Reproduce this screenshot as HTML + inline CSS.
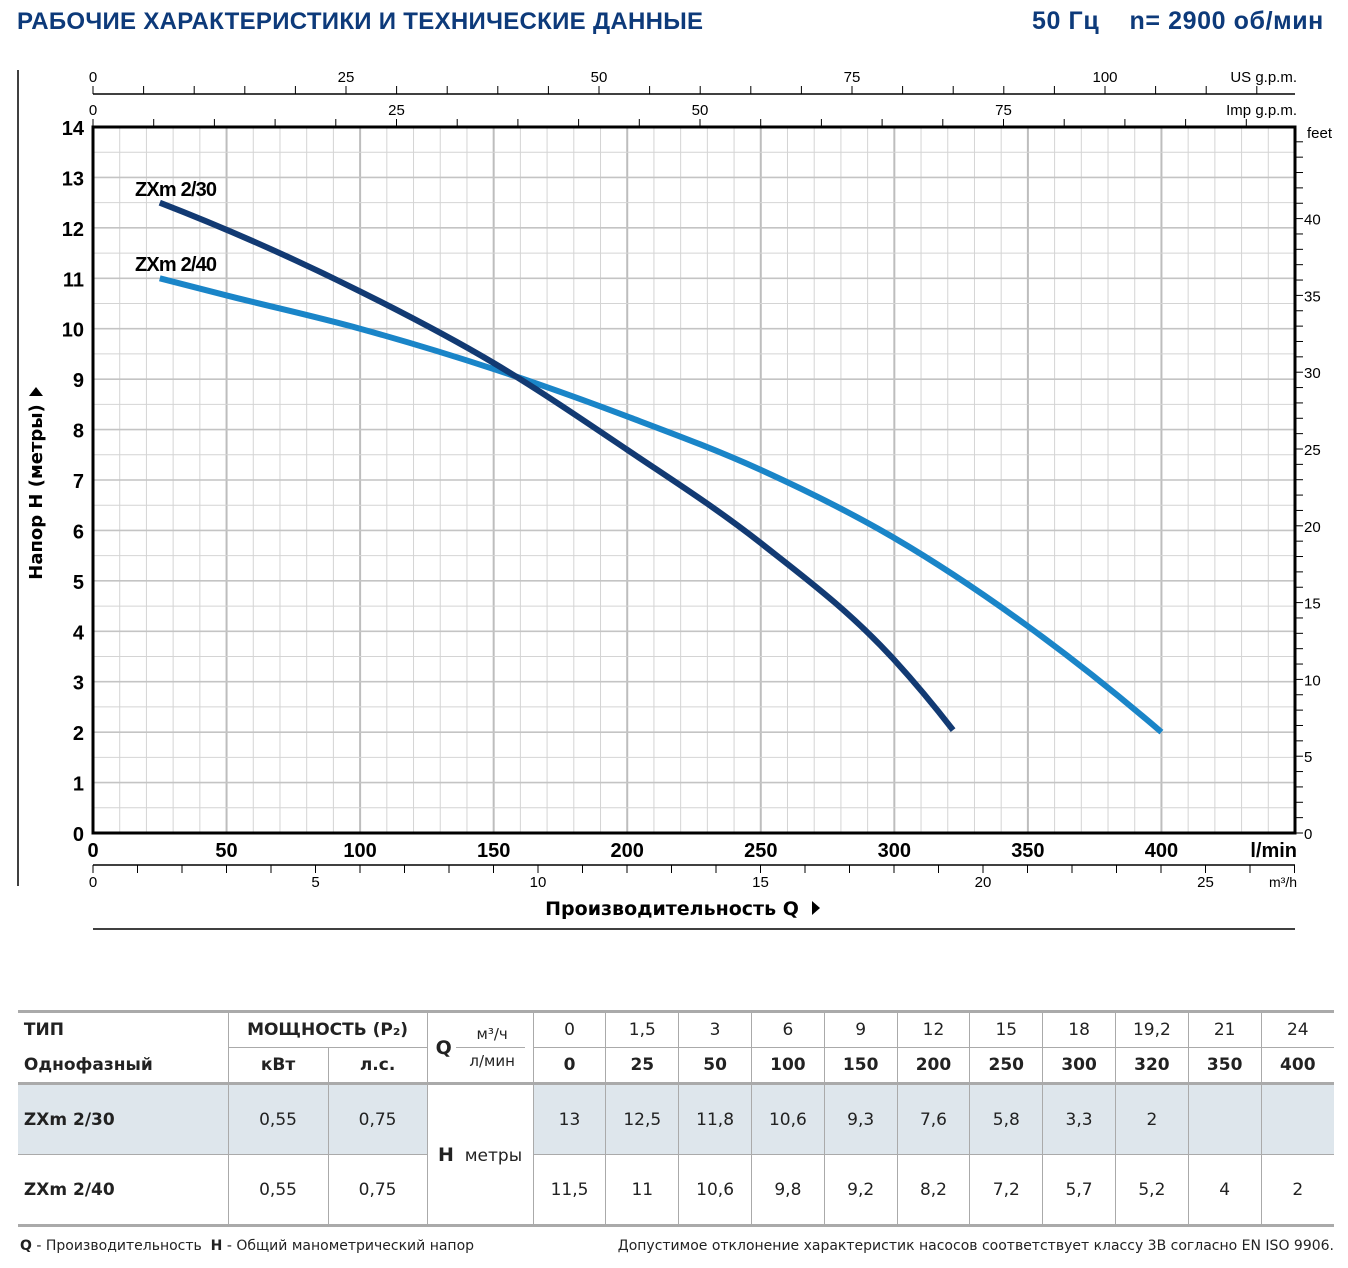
<!DOCTYPE html>
<html><head><meta charset="utf-8"><style>
body{margin:0;width:1348px;height:1268px;background:#fff;font-family:"Liberation Sans",sans-serif;position:relative;overflow:hidden}
.t{position:absolute;font-weight:bold;color:#0d3a7a}
table{position:absolute;left:18px;top:1010px;width:1316px;border-collapse:collapse;table-layout:fixed;font-family:"DejaVu Sans",sans-serif;font-size:17px;color:#222}
td{border:1px solid #aaa;text-align:center;padding:0;height:34px;white-space:nowrap;overflow:hidden}
tr.d td{height:69px}
.sh td{background:#dee6ec}
</style></head><body>
<div class="t" style="left:17px;top:8px;font-size:24px;letter-spacing:0.3px">РАБОЧИЕ ХАРАКТЕРИСТИКИ И ТЕХНИЧЕСКИЕ ДАННЫЕ</div>
<div class="t" style="left:1032px;top:7px;font-size:25px;letter-spacing:0.6px">50 Гц &nbsp;&nbsp; n= 2900 об/мин</div>
<svg id="ch" width="1348" height="1000" style="position:absolute;left:0;top:0"></svg>
<table>
<colgroup><col style="width:210px"><col style="width:100px"><col style="width:99px"><col style="width:106px"><col span="11" style="width:72.8px"></colgroup>
<tr style="border-top:3px solid #aaa"><td style="text-align:left;font-weight:bold;border-left:none;border-bottom:none">&nbsp;ТИП</td><td colspan="2" style="font-weight:bold;border-bottom:none">МОЩНОСТЬ (P₂)</td><td rowspan="2" style="font-size:15px"><b style="font-size:19px;float:left;margin:12px 0 0 8px">Q</b>м³/ч<hr style="margin:4px 8px 4px 28px;border:0;border-top:1px solid #aaa">л/мин</td>
<td>0</td><td>1,5</td><td>3</td><td>6</td><td>9</td><td>12</td><td>15</td><td>18</td><td>19,2</td><td>21</td><td style="border-right:none">24</td></tr>
<tr style="font-weight:bold"><td style="text-align:left;border-left:none;border-top:none">&nbsp;Однофазный</td><td>кВт</td><td>л.с.</td>
<td>0</td><td>25</td><td>50</td><td>100</td><td>150</td><td>200</td><td>250</td><td>300</td><td>320</td><td>350</td><td style="border-right:none">400</td></tr>
<tr class="d sh" style="border-top:3px solid #aaa"><td style="text-align:left;font-weight:bold;border-left:none">&nbsp;ZXm 2/30</td><td>0,55</td><td>0,75</td><td rowspan="2" style="background:#fff"><b style="font-size:19px">H</b>&nbsp; метры</td>
<td>13</td><td>12,5</td><td>11,8</td><td>10,6</td><td>9,3</td><td>7,6</td><td>5,8</td><td>3,3</td><td>2</td><td></td><td style="border-right:none"></td></tr>
<tr class="d" style="border-bottom:3px solid #aaa"><td style="text-align:left;font-weight:bold;border-left:none">&nbsp;ZXm 2/40</td><td>0,55</td><td>0,75</td>
<td>11,5</td><td>11</td><td>10,6</td><td>9,8</td><td>9,2</td><td>8,2</td><td>7,2</td><td>5,7</td><td>5,2</td><td>4</td><td style="border-right:none">2</td></tr>
</table>
<div style="position:absolute;left:20px;top:1238px;font-family:'DejaVu Sans',sans-serif;font-size:14px;color:#222"><b>Q</b> - Производительность &nbsp;<b>H</b> - Общий манометрический напор</div>
<div style="position:absolute;right:14px;top:1238px;font-family:'DejaVu Sans',sans-serif;font-size:14px;color:#222">Допустимое отклонение характеристик насосов соответствует классу 3B согласно EN ISO 9906.</div>
<script>
const flows30=[25,100,150,200,250,300,322];
const head30=[12.5,10.74,9.32,7.6,5.75,3.43,2.04];
const flows40=[25,50,100,150,200,250,300,350,400];
const head40=[11,10.66,10.0,9.2,8.26,7.2,5.85,4.1,2];
const xTicks=[0,50,100,150,200,250,300,350,400];
const yTicks=[0,1,2,3,4,5,6,7,8,9,10,11,12,13,14];
const X0=93,X1=1295,Y0=833,Y1=127;
const x=q=>X0+q*(X1-X0)/450, y=h=>Y0-h*(Y0-Y1)/14;
const svg=document.getElementById('ch');const NS='http://www.w3.org/2000/svg';
function mk(t,a,txt){const e=document.createElementNS(NS,t);for(const k in a)e.setAttribute(k,a[k]);if(txt!==undefined)e.textContent=txt;svg.appendChild(e);return e;}
const F="'Liberation Sans',sans-serif";
for(let q=0;q<=450;q+=10){const e=mk('line',{x1:x(q),x2:x(q),y1:Y1,y2:Y0,stroke:q%50?'#d4d4d4':'#bdbdbd','stroke-width':q%50?1:2});}
for(let h=0;h<=14;h+=0.5){const e=mk('line',{x1:X0,x2:X1,y1:y(h),y2:y(h),stroke:h%1?'#d4d4d4':'#c4c4c4','stroke-width':h%1?1:1.6});}
const fr=mk('rect',{x:X0,y:Y1,width:X1-X0,height:Y0-Y1,fill:'none',stroke:'#000','stroke-width':3});

xTicks.forEach(v=>{const e=mk('text',{x:x(v),y:857,'text-anchor':'middle','font-size':20,'font-weight':'bold','font-family':F},v);});
let u=mk('text',{x:1297,y:857,'text-anchor':'end','font-size':20,'font-weight':'bold','font-family':F},'l/min');
yTicks.forEach(v=>{const e=mk('text',{x:84,y:y(v)+8,'text-anchor':'end','font-size':20,'font-weight':'bold','font-family':F},v);});
mk('line',{x1:X0,x2:X1,y1:94,y2:94,stroke:'#000','stroke-width':1.5});
for(let g=0;g<=119;g+=5){const px=X0+g*10.12;if(px>X1)break;mk('line',{x1:px,x2:px,y1:86,y2:94,stroke:'#000'});if(g%25==0){const e=mk('text',{x:px,y:82,'text-anchor':'middle','font-size':15,'font-family':F},g);}}
mk('text',{x:1297,y:82,'text-anchor':'end','font-size':15,'font-family':F},'US g.p.m.');
for(let g=0;g<=100;g+=5){const px=X0+g*12.14;if(px>X1)break;mk('line',{x1:px,x2:px,y1:119,y2:127,stroke:'#000'});if(g%25==0){const e=mk('text',{x:px,y:115,'text-anchor':'middle','font-size':15,'font-family':F},g);}}
mk('text',{x:1297,y:115,'text-anchor':'end','font-size':15,'font-family':F},'Imp g.p.m.');
for(let f=0;f<=45;f++){const py=Y0-f*15.36;if(py<Y1)break;mk('line',{x1:X1,x2:X1+8,y1:py,y2:py,stroke:'#000'});if(f%5==0&&f<=40){const e=mk('text',{x:X1+9,y:py+6,'font-size':15,'font-family':F},f);}}
mk('text',{x:1307,y:138,'font-size':15,'font-family':F},'feet');
mk('line',{x1:X0,x2:X1,y1:865,y2:865,stroke:'#000','stroke-width':1.5});
for(let m=0;m<=27;m++){const px=X0+m*44.5;mk('line',{x1:px,x2:px,y1:865,y2:873,stroke:'#000'});if(m%5==0&&m<=25){const e=mk('text',{x:px,y:887,'text-anchor':'middle','font-size':15,'font-family':F},m);}}
mk('text',{x:1297,y:887,'text-anchor':'end','font-size':14,'font-family':F},'m³/h');
mk('line',{x1:18,x2:18,y1:70,y2:886,stroke:'#000','stroke-width':1.5});
mk('line',{x1:93,x2:1295,y1:929,y2:929,stroke:'#000','stroke-width':1.5});
let xt=mk('text',{x:672,y:915,'text-anchor':'middle','font-size':19,'font-weight':'bold','font-family':"'DejaVu Sans',sans-serif"},'Производительность Q');

mk('polygon',{points:'812,901 820,908 812,915',fill:'#000'});
let yt=mk('text',{x:0,y:0,transform:'translate(42,492) rotate(-90)','text-anchor':'middle','font-size':18,'font-weight':'bold','font-family':"'DejaVu Sans',sans-serif"},'Напор H (метры)');

mk('polygon',{points:'29,396 36,387 43,396',fill:'#000'});
function curve(qs,hs,col,name){
 const n=qs.length,d=[],w=[],m=[];
 for(let i=0;i<n-1;i++){w.push(qs[i+1]-qs[i]);d.push((hs[i+1]-hs[i])/w[i]);}
 for(let i=1;i<n-1;i++)m[i]=(d[i-1]*w[i]+d[i]*w[i-1])/(w[i-1]+w[i]);
 m[0]=2*d[0]-m[1];m[n-1]=2*d[n-2]-m[n-2];
 let p='M'+x(qs[0])+','+y(hs[0]);
 for(let i=0;i<n-1;i++){const dx=w[i];
  p+=' C'+x(qs[i]+dx/3)+','+y(hs[i]+m[i]*dx/3)+' '+x(qs[i+1]-dx/3)+','+y(hs[i+1]-m[i+1]*dx/3)+' '+x(qs[i+1])+','+y(hs[i+1]);}
 const el=mk('path',{d:p,fill:'none',stroke:col,'stroke-width':6});}
curve(flows40,head40,'#1a85c8','curve-zxm-2-40');
curve(flows30,head30,'#123a73','curve-zxm-2-30');
let l1=mk('text',{x:135,y:196,'font-size':20,'font-weight':'bold','font-family':F,textLength:82},'ZXm 2/30');
let l2=mk('text',{x:135,y:271,'font-size':20,'font-weight':'bold','font-family':F,textLength:82},'ZXm 2/40');
</script>
</body></html>
